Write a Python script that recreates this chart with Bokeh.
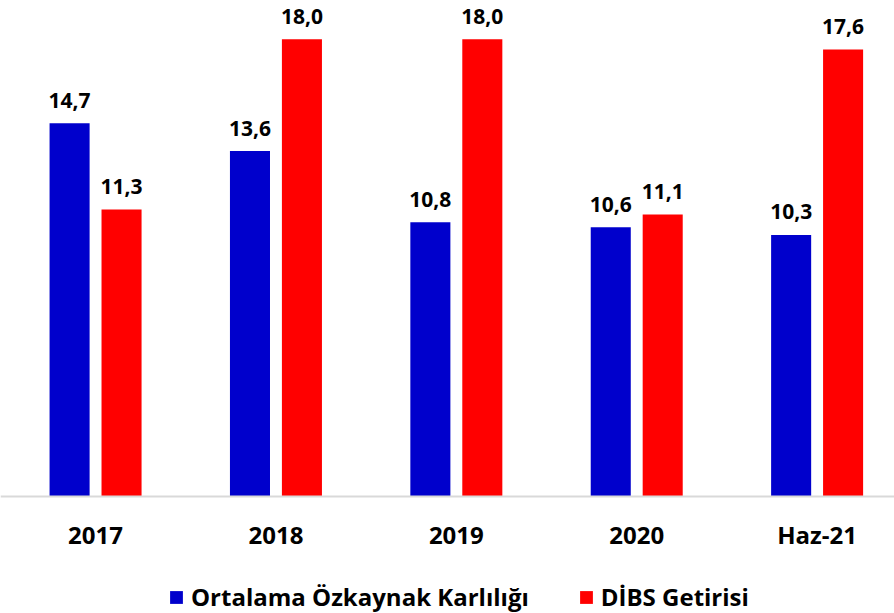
from bokeh.plotting import figure
from bokeh.models import ColumnDataSource, Range1d, FixedTicker, Legend, LegendItem
from bokeh.transform import dodge
from bokeh.core.properties import value
from bokeh.embed import file_html
from bokeh.resources import INLINE

categories = ["2017", "2018", "2019", "2020", "Haz-21"]
ozkaynak = [14.7, 13.6, 10.8, 10.6, 10.3]
dibs = [11.3, 18.0, 18.0, 11.1, 17.6]
series_names = ["Ortalama Özkaynak Karlılığı", "DİBS Getirisi"]

FONT = "Open Sans"
BLUE = "#0000CC"
RED = "#FF0000"

xs = list(range(len(categories)))
src = ColumnDataSource(dict(
    x=xs,
    oz=ozkaynak,
    dibs=dibs,
    oz_lbl=[f"{v:.1f}".replace(".", ",") for v in ozkaynak],
    dibs_lbl=[f"{v:.1f}".replace(".", ",") for v in dibs],
))

p = figure(width=894, height=613,
           x_range=Range1d(-0.527, 4.429), y_range=Range1d(-4.606, 19.528),
           output_backend="svg", toolbar_location=None,
           min_border_left=0, min_border_right=0, min_border_top=0,
           min_border_bottom=0)

off = 0.144
bw = 0.222
r1 = p.vbar(x=dodge("x", -off, range=p.x_range), top="oz", width=bw, bottom=0,
            source=src, fill_color=BLUE, line_color=None)
r2 = p.vbar(x=dodge("x", off, range=p.x_range), top="dibs", width=bw, bottom=0,
            source=src, fill_color=RED, line_color=None)

p.text(x=dodge("x", -off, range=p.x_range), y="oz", text="oz_lbl", source=src,
       text_align="center", text_baseline="alphabetic", y_offset=-23,
       text_font=value(FONT), text_font_style="bold", text_font_size="21px",
       text_color="#000000")
p.text(x=dodge("x", off, range=p.x_range), y="dibs", text="dibs_lbl", source=src,
       text_align="center", text_baseline="alphabetic", y_offset=-23,
       text_font=value(FONT), text_font_style="bold", text_font_size="21px",
       text_color="#000000")

p.xgrid.visible = False
p.ygrid.visible = False
p.yaxis.visible = False
p.outline_line_color = None

ax = p.xaxis[0]
ax.fixed_location = 0
ax.ticker = FixedTicker(ticks=xs)
ax.major_label_overrides = {i: c for i, c in enumerate(categories)}
ax.axis_line_color = "#D9D9D9"
ax.axis_line_width = 2
ax.major_tick_line_color = None
ax.minor_tick_line_color = None
ax.major_tick_out = 0
ax.major_tick_in = 0
ax.major_label_standoff = 21
ax.major_label_text_font = FONT
ax.major_label_text_font_style = "bold"
ax.major_label_text_font_size = "24px"
ax.major_label_text_color = "#000000"

legend = Legend(items=[LegendItem(label=series_names[0], renderers=[r1]),
                       LegendItem(label=series_names[1], renderers=[r2])],
                orientation="horizontal", location=(168, 0),
                glyph_width=16, glyph_height=16, label_standoff=7, spacing=49,
                padding=0, margin=0, border_line_color=None,
                background_fill_alpha=0,
                label_text_font=FONT, label_text_font_style="bold",
                label_text_font_size="24px", label_text_color="#000000")
p.add_layout(legend, "center")

open("out.html", "w").write(file_html(p, INLINE))
